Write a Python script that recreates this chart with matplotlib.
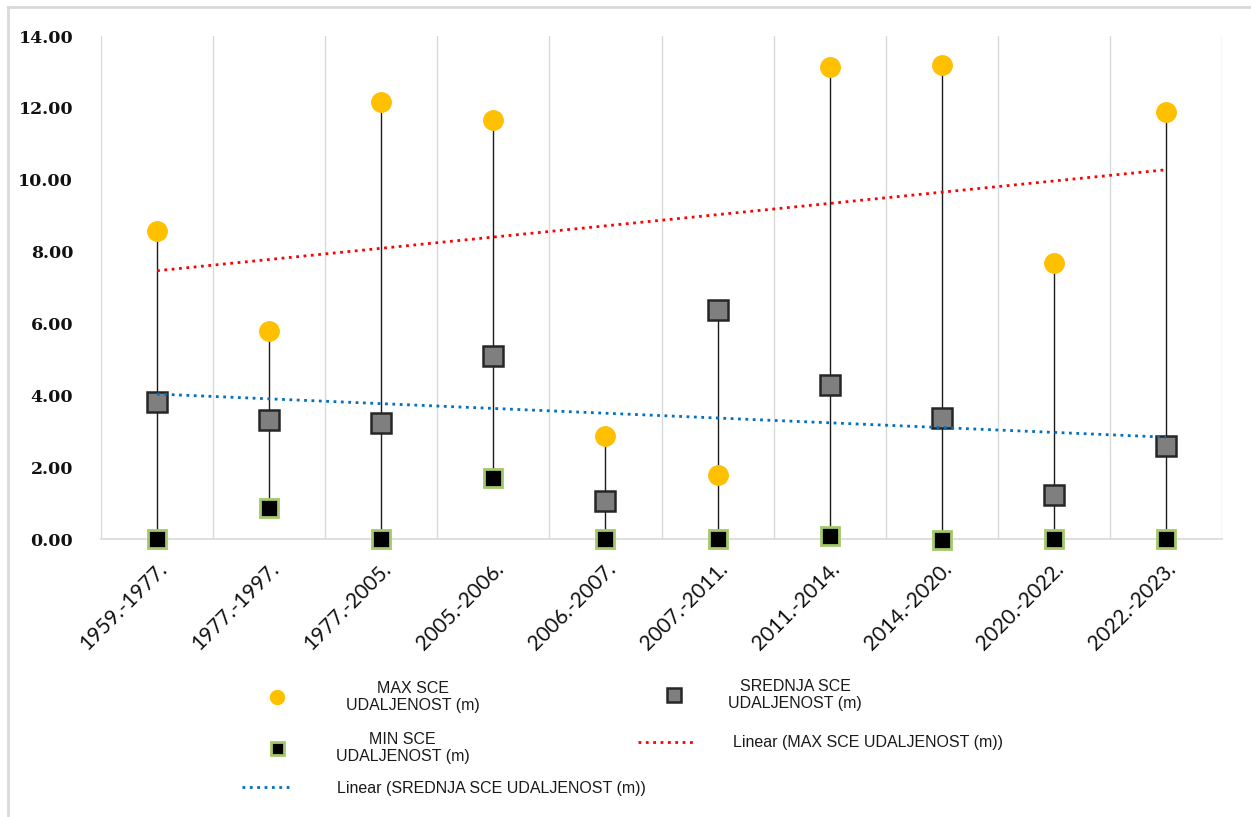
#!/usr/bin/env python3
"""High-low chart of SCE udaljenost per period, with linear trendlines."""
import numpy as np
import matplotlib
matplotlib.use('Agg')
import matplotlib.pyplot as plt
from matplotlib.lines import Line2D

periods = ['1959.-1977.', '1977.-1997.', '1977.-2005.', '2005.-2006.', '2006.-2007.',
           '2007.-2011.', '2011.-2014.', '2014.-2020.', '2020.-2022.', '2022.-2023.']
max_vals = [8.57, 5.79, 12.16, 11.66, 2.87, 1.78, 13.14, 13.19, 7.68, 11.88]
mean_vals = [3.81, 3.31, 3.23, 5.09, 1.06, 6.37, 4.29, 3.37, 1.22, 2.59]
min_vals = [0.00, 0.86, 0.00, 1.70, 0.00, 0.00, 0.08, -0.04, 0.00, 0.00]
y_ticks = [0, 2, 4, 6, 8, 10, 12, 14]

W, H = 1251, 817
LEG_FS = 11.5
LEG_FONT = ['Liberation Sans', 'DejaVu Sans']

fig = plt.figure(figsize=(W / 100, H / 100), dpi=100)
ax = fig.add_axes([101 / W, 1 - 539 / H, (1222 - 101) / W, (539 - 36) / H])

x = np.arange(1, len(periods) + 1)
hi = np.maximum(np.maximum(max_vals, mean_vals), min_vals)
lo = np.minimum(np.minimum(max_vals, mean_vals), min_vals)

# high-low lines
ax.vlines(x, lo, hi, color='#1a1a1a', lw=1.0, zorder=2)

ax.plot(x, max_vals, 'o', color='#FFC000', ms=14, mec='#FFC000', zorder=3,
        clip_on=False)
ax.plot(x, mean_vals, 's', color='#7F7F7F', ms=14, mec='#262626', mew=1.8,
        zorder=3, clip_on=False)
ax.plot(x, min_vals, 's', color='black', ms=13, mec='#A3C86B', mew=2.0,
        zorder=3, clip_on=False)

# linear trendlines
xe = np.array([x[0], x[-1]])
k1, b1 = np.polyfit(x, max_vals, 1)
k2, b2 = np.polyfit(x, mean_vals, 1)
ax.plot(xe, k1 * xe + b1, ':', color='#FF0000', lw=2.0, zorder=4)
ax.plot(xe, k2 * xe + b2, ':', color='#0070C0', lw=2.0, zorder=4)

ax.set_xlim(0.5, len(periods) + 0.5)
ax.set_ylim(0, 14)
ax.set_yticks(y_ticks)
ax.set_yticklabels([f'{v:.2f}' for v in y_ticks], family='DejaVu Serif',
                   fontsize=12.5, fontweight='bold', color='#111111')
ax.set_xticks(x)
ax.set_xticklabels(periods, rotation=45, ha='right', rotation_mode='anchor',
                   fontsize=15, family='Lato', color='#111111')
ax.tick_params(axis='y', length=0, pad=20)
ax.tick_params(axis='x', length=0, pad=14)

for b in np.arange(0.5, len(periods) + 1, 1.0):
    ax.axvline(b, color='#D9D9D9', lw=1.0, zorder=1)
for s in ['top', 'right', 'left']:
    ax.spines[s].set_visible(False)
ax.spines['bottom'].set_color('#D9D9D9')
ax.spines['bottom'].set_linewidth(1.2)

# outer chart border
fig.add_artist(Line2D([8 / W, 8 / W], [0, 1 - 7 / H], color='#D9D9D9', lw=2))
fig.add_artist(Line2D([8 / W, 1], [1 - 7 / H, 1 - 7 / H], color='#D9D9D9', lw=2))

# legend, one entry at a time to follow the reference layout
fs_px = LEG_FS * 100 / 72
h_max = Line2D([], [], ls='', marker='o', color='#FFC000', ms=14)
h_mean = Line2D([], [], ls='', marker='s', color='#7F7F7F', ms=14, mec='#262626', mew=1.8)
h_min = Line2D([], [], ls='', marker='s', color='black', ms=13, mec='#A3C86B', mew=2.0)
h_tmax = Line2D([], [], ls=':', color='#FF0000', lw=2.0)
h_tmean = Line2D([], [], ls=':', color='#0070C0', lw=2.0)

entries = [
    (h_max, 'MAX SCE\nUDALJENOST (m)', 264.5, 697, 25, 57),
    (h_mean, 'SREDNJA SCE\nUDALJENOST (m)', 661.5, 695, 25, 42),
    (h_min, 'MIN SCE\nUDALJENOST (m)', 264.5, 748, 25, 46),
    (h_tmax, 'Linear (MAX SCE UDALJENOST (m))', 638, 743, 58, 37),
    (h_tmean, 'Linear (SREDNJA SCE UDALJENOST (m))', 242, 788, 50, 45),
]
for h, lab, xl, yc, hl, pad in entries:
    leg = fig.legend([h], [lab], loc='center left', bbox_to_anchor=(xl / W, 1 - yc / H),
                     frameon=False, borderpad=0, borderaxespad=0,
                     handlelength=hl / fs_px, handletextpad=pad / fs_px,
                     markerscale=0.72, prop={'family': LEG_FONT, 'size': LEG_FS})
    for t in leg.get_texts():
        t.set_multialignment('center')
        t.set_linespacing(1.1)
        t.set_color('#1a1a1a')

fig.savefig('out.png', dpi=100)
